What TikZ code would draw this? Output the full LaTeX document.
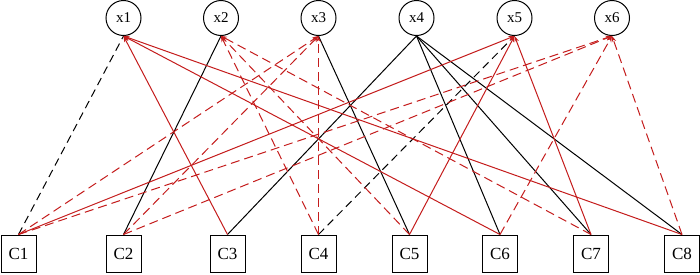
\documentclass[tikz,border=0pt]{standalone}
\usepackage{fontspec}
\setmainfont{Liberation Serif}
\usetikzlibrary{arrows.meta}
\definecolor{lred}{RGB}{196,28,28}
\tikzset{
  xnode/.style={draw, circle, line width=1pt, minimum size=35pt, inner sep=0pt, font=\fontsize{15}{17}\selectfont},
  cnode/.style={draw, rectangle, line width=1pt, minimum width=35pt, minimum height=37pt, inner sep=0pt, font=\fontsize{17}{19}\selectfont},
  blk/.style={line width=1pt, black},
  blkdash/.style={blk, dash pattern=on 8pt off 5pt},
  redl/.style={line width=1pt, lred, -{Stealth[length=6pt,width=4.5pt]}},
  reddash/.style={redl, dash pattern=on 9pt off 5pt},
}
\begin{document}
\begin{tikzpicture}[x=1pt,y=-1pt]
\useasboundingbox (0,0) rectangle (700,274);
\node[xnode] (x1) at (123.5,18) {x1};
\node[xnode] (x2) at (221,18) {x2};
\node[xnode] (x3) at (318.5,18) {x3};
\node[xnode] (x4) at (416.5,18) {x4};
\node[xnode] (x5) at (514.5,18) {x5};
\node[xnode] (x6) at (612,18) {x6};
\node[cnode] (c1) at (18.5,253.5) {C1};
\node[cnode] (c2) at (123.5,253.5) {C2};
\node[cnode] (c3) at (227.5,253.5) {C3};
\node[cnode] (c4) at (318.5,253.5) {C4};
\node[cnode] (c5) at (409.5,253.5) {C5};
\node[cnode] (c6) at (500,253.5) {C6};
\node[cnode] (c7) at (591,253.5) {C7};
\node[cnode] (c8) at (682,253.5) {C8};
% black solid
\draw[blk] (c2.north) -- (x2.south);
\draw[blk] (c5.north) -- (x3.south);
\draw[blk] (c3.north) -- (x4.south);
\draw[blk] (c6.north) -- (x4.south);
\draw[blk] (c7.north) -- (x4.south);
\draw[blk] (c8.north) -- (x4.south);
% black dashed
\draw[blkdash] (c1.north) -- (x1.south);
\draw[blkdash] (c4.north) -- (x5.south);
% red solid
\draw[redl] (c3.north) -- (x1.south);
\draw[redl] (c6.north) -- (x1.south);
\draw[redl] (c8.north) -- (x1.south);
\draw[redl] (c1.north) -- (x5.south);
\draw[redl] (c5.north) -- (x5.south);
\draw[redl] (c7.north) -- (x5.south);
% red dashed
\draw[reddash] (c4.north) -- (x2.south);
\draw[reddash] (c5.north) -- (x2.south);
\draw[reddash] (c7.north) -- (x2.south);
\draw[reddash] (c1.north) -- (x3.south);
\draw[reddash] (c2.north) -- (x3.south);
\draw[reddash] (c4.north) -- (x3.south);
\draw[reddash] (c1.north) -- (x6.south);
\draw[reddash] (c2.north) -- (x6.south);
\draw[reddash] (c6.north) -- (x6.south);
\draw[reddash] (c8.north) -- (x6.south);
\end{tikzpicture}
\end{document}
